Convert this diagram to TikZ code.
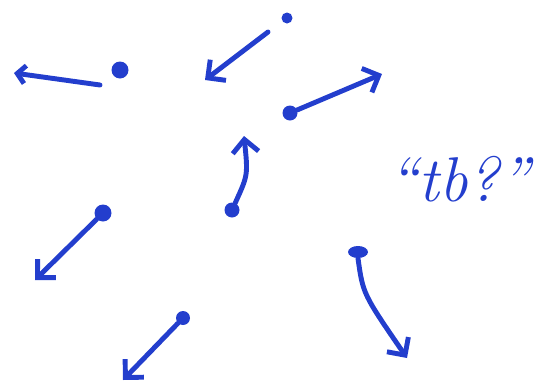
\documentclass[tikz,border=0pt]{standalone}
\usetikzlibrary{arrows.meta,shapes.geometric}
\definecolor{inkblue}{RGB}{35,62,205}

\begin{document}
\begin{tikzpicture}[line cap=round,line join=round,
    dot/.style={circle,fill=inkblue,inner sep=0pt,minimum size=#1},
    vec/.style={draw=inkblue,line width=2.8pt,-{Straight Barb[length=2.6mm,width=5.2mm]}}]
  \useasboundingbox (0,0) rectangle (10.96,7.78);
  % 粒子
  \node[dot=0.34cm] (p1) at (2.40,6.38) {};
  \node[dot=0.22cm] (p2) at (5.74,7.42) {};
  \node[dot=0.30cm] (p3) at (5.80,5.52) {};
  \node[dot=0.30cm] (p4) at (4.64,3.58) {};
  \node[dot=0.34cm] (p5) at (2.06,3.52) {};
  \node[dot=0.28cm] (p6) at (3.66,1.42) {};
  \node[ellipse,fill=inkblue,inner sep=0pt,minimum height=0.24cm,minimum width=0.40cm] (p7) at (7.16,2.74) {};
  % 速度箭头端点
  \coordinate (v1) at (0.28,6.32);
  \coordinate (v2) at (4.10,6.18);
  \coordinate (v3) at (7.64,6.30);
  \coordinate (v4) at (4.88,5.06);
  \coordinate (v5) at (0.70,2.18);
  \coordinate (v6) at (2.46,0.18);
  \coordinate (v7) at (8.14,0.62);
  % 箭头
  \draw[vec,-{Straight Barb[length=1.6mm,width=3.6mm]}] ([xshift=-0.40cm,yshift=-0.30cm]p1.center) -- (v1);
  \draw[vec] ([xshift=-0.38cm,yshift=-0.28cm]p2.center) -- (v2);
  \draw[vec] (p3) -- (v3);
  \draw[vec] (p4) .. controls (4.96,4.28) .. (v4);
  \draw[vec] (p5) -- (v5);
  \draw[vec] (p6) -- (v6);
  \draw[vec] (p7.south) .. controls (7.26,1.90) .. (v7);
  % 标注
  \node[text=inkblue,font=\fontsize{36}{36}\selectfont\itshape] (lbl) at (9.18,4.20) {``tb?''};
\end{tikzpicture}
\end{document}
